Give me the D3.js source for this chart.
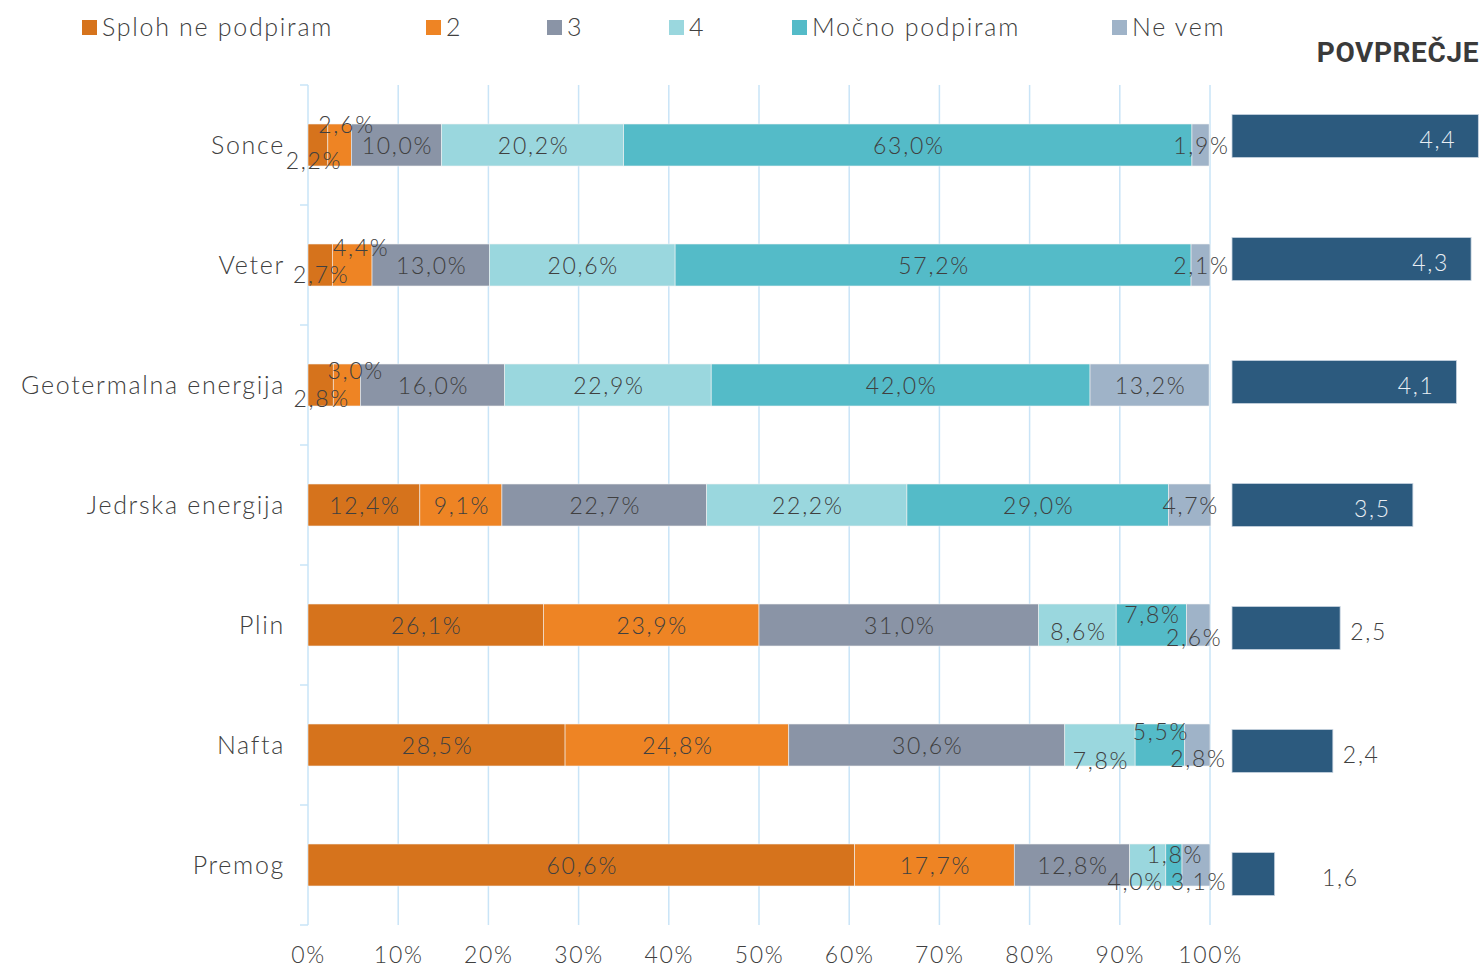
<!DOCTYPE html>
<html><head><meta charset="utf-8">
<script src="https://cdn.jsdelivr.net/npm/d3@7"></script>
<style>
html,body{margin:0;padding:0;background:#fff;}
svg text{font-family:Lato,"Open Sans",sans-serif;font-weight:300;letter-spacing:1.7px;}
</style></head>
<body><svg id="c" width="1483" height="969"></svg>
<script>
// ---- data ----
const categories = ["Sonce","Veter","Geotermalna energija","Jedrska energija","Plin","Nafta","Premog"];
const seriesNames = ["Sploh ne podpiram","2","3","4","Močno podpiram","Ne vem"];
const splohNe   = [2.2, 2.7, 2.8, 12.4, 26.1, 28.5, 60.6];
const s2        = [2.6, 4.4, 3.0, 9.1, 23.9, 24.8, 17.7];
const s3        = [10.0, 13.0, 16.0, 22.7, 31.0, 30.6, 12.8];
const s4        = [20.2, 20.6, 22.9, 22.2, 8.6, 7.8, 4.0];
const mocno     = [63.0, 57.2, 42.0, 29.0, 7.8, 5.5, 1.8];
const neVem     = [1.9, 2.1, 13.2, 4.7, 2.6, 2.8, 3.1];
const povprecje = [4.4, 4.3, 4.1, 3.5, 2.5, 2.4, 1.6];
const xTicks = [0,10,20,30,40,50,60,70,80,90,100];

// ---- style / layout ----
const colors = ["#D6731C","#EE8424","#8A94A6","#9AD7DE","#54BBC8","#9FB3C8"];
const avgColor = "#2C5A7E";
const textColor = "#404040";
const gridColor = "#C9E4F7";
// label nudges for small segments: key "row-series" -> [dx, dy]
const labelNudge = {
  "0-0":[-5,15],"0-1":[6,-21],
  "1-0":[0,9],"1-1":[8,-18],
  "2-0":[0,13],"2-1":[8,-15],
  "4-3":[0,6],"4-4":[0,-11],"4-5":[-5,12],
  "5-3":[0,15],"5-4":[0,-14],"5-5":[0,13],
  "6-3":[-13,16],"6-4":[0,-11],"6-5":[2,16]
};

const allSeries = [splohNe, s2, s3, s4, mocno, neVem];
const svg = d3.select("#c");
const fmt = v => v.toFixed(1).replace(".", ",");

const x = d3.scaleLinear().domain([0,100]).range([308,1210]);
const y = d3.scaleBand().domain(categories).range([85,925]).paddingInner(0.65).paddingOuter(0.325);
const yR = d3.scaleBand().domain(categories).range([74.5,935.5]).paddingInner(0.65).paddingOuter(0.325);
const xR = d3.scaleLinear().domain([1,5]).range([1231,1522]);

// gridlines
svg.append("g").selectAll("line").data(xTicks).join("line")
  .attr("x1",d=>x(d)).attr("x2",d=>x(d)).attr("y1",85).attr("y2",925)
  .attr("stroke",gridColor).attr("stroke-width",1.5);

// left axis with band boundary ticks
const bounds = d3.range(categories.length+1).map(i=>85 + i*y.step());
svg.append("g").selectAll("line").data(bounds).join("line")
  .attr("x1",300).attr("x2",308).attr("y1",d=>d).attr("y2",d=>d)
  .attr("stroke",gridColor).attr("stroke-width",1.5);

// stacked data
const rows = categories.map((c,i)=>{
  let acc = 0;
  return allSeries.map((s,j)=>{ const v=s[i]; const r={cat:c,i,j,v,x0:acc,x1:acc+v}; acc+=v; return r; });
});

const gBars = svg.append("g");
rows.forEach(r=>{
  gBars.selectAll(null).data(r).join("rect")
    .attr("x",d=>x(d.x0)).attr("width",d=>x(d.x1)-x(d.x0))
    .attr("y",d=>y(d.cat)).attr("height",y.bandwidth())
    .attr("fill",d=>colors[d.j]).attr("stroke","#f2f2f2").attr("stroke-width",0.6);
});
rows.forEach(r=>{
  gBars.selectAll(null).data(r).join("text")
    .attr("x",d=>(x(d.x0)+x(d.x1))/2 + 1 + (labelNudge[d.i+"-"+d.j]||[0,0])[0])
    .attr("y",d=>y(d.cat)+y.bandwidth()/2 + 1 + (labelNudge[d.i+"-"+d.j]||[0,0])[1])
    .attr("dy","0.35em").attr("text-anchor","middle")
    .attr("font-size",23).attr("fill",textColor)
    .text(d=>fmt(d.v)+"%");
});

// category labels
svg.append("g").selectAll("text").data(categories).join("text")
  .attr("x",285).attr("y",d=>y(d)+y.bandwidth()/2).attr("dy","0.35em")
  .attr("text-anchor","end").attr("font-size",25).attr("fill",textColor).text(d=>d);

// x axis
const xa = svg.append("g").attr("transform","translate(0,944)")
  .call(d3.axisBottom(x).tickValues(xTicks).tickSize(0).tickFormat(d=>d+"%"));
xa.select(".domain").remove();
xa.selectAll("text").attr("font-size",23).attr("fill",textColor).attr("font-family","Lato").attr("font-weight",300).attr("dy","0.7em");

// averages
const gAvg = svg.append("g");
gAvg.selectAll("rect").data(povprecje).join("rect")
  .attr("x",1232).attr("y",(d,i)=>yR(categories[i])).attr("height",yR.bandwidth())
  .attr("width",d=>xR(d)-1232).attr("fill",avgColor).attr("stroke","#c8d4e0").attr("stroke-width",0.8);
gAvg.selectAll("text").data(povprecje).join("text")
  .attr("y",(d,i)=>yR(categories[i])+yR.bandwidth()/2).attr("dy","0.5em")
  .attr("font-size",23)
  .each(function(d){
    const inside = d >= 3;
    const t = d3.select(this);
    if(inside){ t.attr("x",xR(d)-22).attr("text-anchor","end").attr("fill","#E8EEF4"); }
    else { t.attr("x",Math.max(xR(d)+10,1322)).attr("text-anchor","start").attr("fill",textColor); }
  })
  .text(d=>fmt(d));

svg.append("text").attr("x",1479).attr("y",62).attr("text-anchor","end")
  .attr("font-size",28).attr("fill","#3a3a3a")
  .style("font-family","'Liberation Sans Narrow','Roboto',sans-serif").style("font-weight",700)
  .style("letter-spacing","0.6px")
  .text("POVPREČJE");

// legend
const legendX = [82,426,547,669,792,1112];
const lg = svg.append("g");
seriesNames.forEach((n,j)=>{
  lg.append("rect").attr("x",legendX[j]).attr("y",20).attr("width",15).attr("height",15).attr("fill",colors[j]);
  lg.append("text").attr("x",legendX[j]+20).attr("y",27).attr("dy","0.35em")
    .attr("font-size",25).attr("fill",textColor).text(n);
});
</script></body></html>
